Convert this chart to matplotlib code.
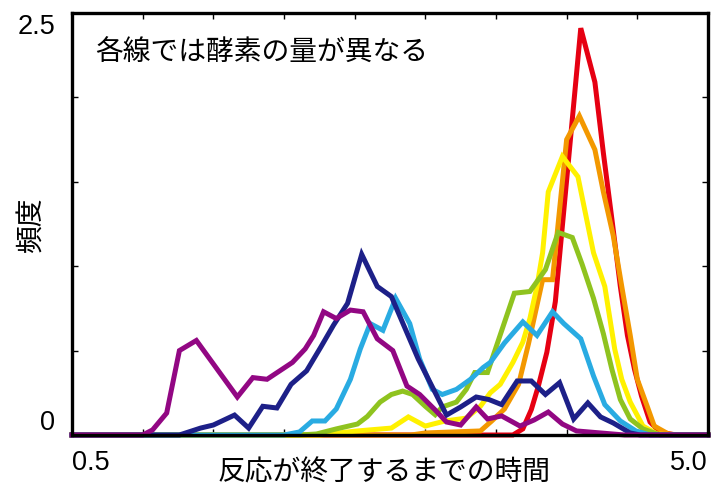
import matplotlib
matplotlib.use('Agg')
import matplotlib.pyplot as plt

plt.rcParams['font.family'] = ['Noto Sans CJK JP', 'DejaVu Sans']

# each curve: x (reaction end time) and y (frequency)
red_x = [0.5, 3.5, 3.62, 3.69, 3.75, 3.80, 3.86, 3.92, 4.10, 4.20, 4.26, 4.32, 4.38, 4.43, 4.48, 4.53, 4.59, 4.66, 4.77, 5.0]
red_y = [0, 0, 0, 0.036, 0.15, 0.29, 0.49, 0.79, 2.41, 2.09, 1.67, 1.28, 0.88, 0.59, 0.39, 0.23, 0.077, 0.018, 0, 0]

orange_x = [0.5, 2.9, 3.0, 3.39, 3.47, 3.56, 3.66, 3.73, 3.83, 3.90, 4.00, 4.09, 4.20, 4.26, 4.33, 4.39, 4.45, 4.50, 4.57, 4.62, 4.72, 4.8, 5.0]
orange_y = [0, 0, 0.012, 0.024, 0.083, 0.154, 0.30, 0.54, 0.92, 0.92, 1.75, 1.89, 1.69, 1.44, 1.18, 0.88, 0.59, 0.33, 0.17, 0.053, 0.006, 0, 0]

yellow_x = [0.5, 2.25, 2.52, 2.76, 2.88, 3.0, 3.14, 3.29, 3.39, 3.46, 3.53, 3.62, 3.69, 3.74, 3.79, 3.83, 3.87, 3.97, 4.08, 4.19, 4.27, 4.34, 4.39, 4.45, 4.54, 4.64, 4.75, 5.0]
yellow_y = [0, 0, 0.024, 0.041, 0.107, 0.053, 0.083, 0.10, 0.17, 0.25, 0.30, 0.43, 0.55, 0.69, 0.88, 1.08, 1.44, 1.65, 1.53, 1.08, 0.88, 0.51, 0.33, 0.195, 0.053, 0.006, 0, 0]

green_x = [0.5, 2.11, 2.23, 2.37, 2.52, 2.59, 2.68, 2.76, 2.84, 2.91, 3.0, 3.07, 3.12, 3.22, 3.29, 3.35, 3.44, 3.63, 3.74, 3.85, 3.94, 4.04, 4.11, 4.19, 4.26, 4.32, 4.38, 4.45, 4.54, 4.66, 5.0]
green_y = [0, 0, 0.006, 0.036, 0.065, 0.11, 0.195, 0.24, 0.26, 0.24, 0.17, 0.12, 0.166, 0.195, 0.27, 0.37, 0.37, 0.84, 0.85, 0.98, 1.20, 1.17, 1.01, 0.81, 0.60, 0.39, 0.21, 0.095, 0.036, 0, 0]

cyan_x = [0.5, 2.0, 2.11, 2.20, 2.29, 2.37, 2.47, 2.54, 2.61, 2.70, 2.79, 2.89, 2.96, 3.05, 3.12, 3.22, 3.32, 3.41, 3.46, 3.56, 3.69, 3.79, 3.90, 3.98, 4.10, 4.19, 4.27, 4.38, 4.49, 4.59, 5.0]
cyan_y = [0, 0, 0.018, 0.083, 0.083, 0.154, 0.33, 0.51, 0.66, 0.62, 0.81, 0.66, 0.45, 0.27, 0.24, 0.27, 0.33, 0.40, 0.43, 0.545, 0.67, 0.59, 0.73, 0.66, 0.57, 0.35, 0.18, 0.083, 0.024, 0, 0]

navy_x = [0.5, 1.26, 1.41, 1.50, 1.65, 1.75, 1.85, 1.95, 2.05, 2.16, 2.26, 2.35, 2.45, 2.55, 2.66, 2.76, 2.95, 3.15, 3.25, 3.36, 3.45, 3.54, 3.65, 3.75, 3.85, 3.95, 4.05, 4.15, 4.24, 4.33, 4.45, 4.52, 5.0]
navy_y = [0, 0, 0.041, 0.059, 0.118, 0.041, 0.17, 0.16, 0.30, 0.38, 0.52, 0.65, 0.78, 1.07, 0.88, 0.82, 0.45, 0.118, 0.166, 0.225, 0.21, 0.18, 0.32, 0.32, 0.24, 0.31, 0.095, 0.19, 0.107, 0.071, 0.012, 0, 0]

purple_x = [0.5, 1.0, 1.07, 1.17, 1.26, 1.38, 1.67, 1.78, 1.88, 1.97, 2.06, 2.15, 2.21, 2.28, 2.37, 2.47, 2.56, 2.66, 2.77, 2.87, 2.96, 3.07, 3.15, 3.25, 3.36, 3.44, 3.54, 3.67, 3.77, 3.87, 3.97, 4.07, 4.24, 4.41, 5.0]
purple_y = [0, 0, 0.03, 0.13, 0.50, 0.56, 0.225, 0.34, 0.33, 0.38, 0.43, 0.51, 0.59, 0.73, 0.69, 0.74, 0.73, 0.57, 0.50, 0.29, 0.24, 0.148, 0.077, 0.059, 0.166, 0.095, 0.113, 0.053, 0.089, 0.136, 0.065, 0.024, 0.012, 0, 0]

series = [
    (red_x, red_y, '#e60012'),
    (orange_x, orange_y, '#f39800'),
    (yellow_x, yellow_y, '#fff100'),
    (green_x, green_y, '#8fc31f'),
    (cyan_x, cyan_y, '#29abe2'),
    (navy_x, navy_y, '#1d2088'),
    (purple_x, purple_y, '#920783'),
]

x_ticks = [0.5, 1.0, 1.5, 2.0, 2.5, 3.0, 3.5, 4.0, 4.5, 5.0]
x_ticklabels = ['0.5', '', '', '', '', '', '', '', '', '5.0']
y_ticks = [0, 0.5, 1.0, 1.5, 2.0, 2.5]
y_ticklabels = ['0', '', '', '', '', '2.5']

fig = plt.figure(figsize=(7.17, 4.89), dpi=100)
ax = fig.add_axes([0.1004, 0.1084, 0.887, 0.863])

for xs, ys, c in series:
    ax.plot(xs, ys, color=c, lw=3.6, solid_joinstyle='miter', clip_on=False)

ax.set_xlim(0.5, 5.0)
ax.set_ylim(0, 2.5)
for sp in ax.spines.values():
    sp.set_linewidth(2.4)
    sp.set_zorder(5)

ax.set_xticks(x_ticks)
ax.set_xticklabels(x_ticklabels, family='Liberation Sans', fontsize=19.5)
ax.set_yticks(y_ticks)
ax.set_yticklabels(y_ticklabels, family='Liberation Sans', fontsize=19.5)
ax.tick_params(direction='in', length=4, width=1, top=True, right=True)
ax.tick_params(axis='x', pad=10)
ax.tick_params(axis='y', pad=12)

xl = ax.get_xticklabels()
xl[0].set_ha('left')
xl[-1].set_ha('right')
yl = ax.get_yticklabels()
yl[0].set_va('bottom')
yl[-1].set_va('top')

ax.set_xlabel('反応が終了するまでの時間', fontsize=20)
ax.xaxis.set_label_coords(0.49, -0.05)
ax.set_ylabel('頻度', fontsize=20, va='center')
ax.yaxis.set_label_coords(-0.064, 0.5)

ax.text(0.036, 0.907, '各線では酵素の量が異なる', transform=ax.transAxes,
        fontsize=20, ha='left', va='center')

fig.savefig('out.png', dpi=100)
